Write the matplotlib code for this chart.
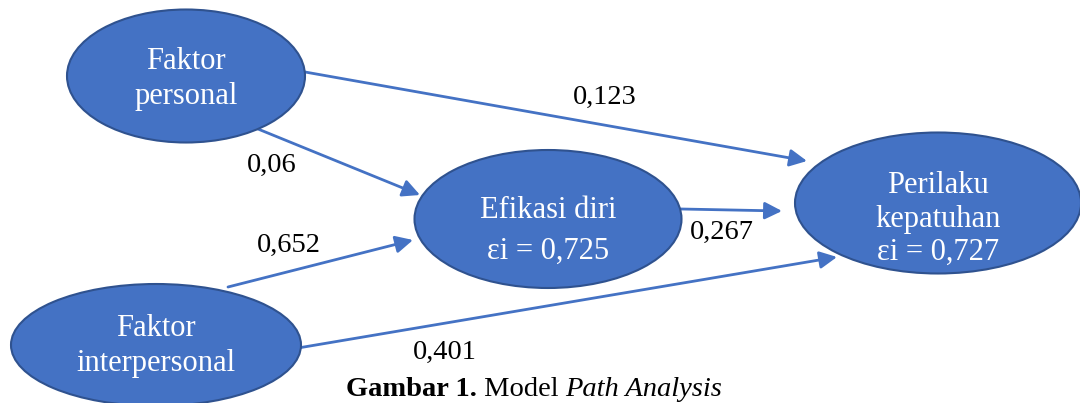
# Path analysis diagram

import matplotlib.pyplot as plt
from matplotlib.patches import Ellipse

plt.rcParams['font.family'] = ['Liberation Serif', 'DejaVu Serif']

# Nodes: label text and layout (centre x, centre y, width, height) in pixels
node_names = ['fp', 'fi', 'ef', 'pk']
node_labels = ['Faktor\npersonal', 'Faktor\ninterpersonal',
               'Efikasi diri\n\u03b5i = 0,725', 'Perilaku\nkepatuhan\n\u03b5i = 0,727']
node_boxes = [(186, 76, 238, 133), (156, 345, 290, 122),
              (548, 219, 267, 138), (938, 203, 286, 141)]
# text centre y and line spacing inside each node
text_y = [79, 346, 231, 219]
text_spacing = [1.27, 1.27, 1.5, 1.2]

# Path coefficients
edge_from = ['fp', 'fp', 'fi', 'ef', 'fi']
edge_to = ['pk', 'ef', 'ef', 'pk', 'pk']
coefs = ['0,123', '0,06', '0,652', '0,267', '0,401']

# arrow start / tip and label position for each edge
edge_start = [(305, 72), (258, 129), (228, 287), (681, 209), (298, 348)]
edge_tip = [(807, 161), (420, 195), (413, 240), (782, 211), (837, 257)]
label_pos = [(605, 97), (272, 165), (289, 245), (722, 232), (445, 352)]

fill = '#4472C4'
edge = '#2F528F'

fig = plt.figure(figsize=(10.8, 4.03), dpi=100)
ax = fig.add_axes([0, 0, 1, 1])
ax.set_xlim(0, 1080)
ax.set_ylim(403, 0)
ax.axis('off')

for (x, y, w, h), lab, ty, sp in zip(node_boxes, node_labels, text_y, text_spacing):
    ax.add_patch(Ellipse((x, y), w, h, facecolor=fill, edgecolor=edge, lw=1.5, zorder=2))
    ax.text(x, ty, lab, color='white', fontsize=22, ha='center', va='center',
            linespacing=sp, zorder=3)

for s, t, c, lp in zip(edge_start, edge_tip, coefs, label_pos):
    ax.annotate('', xy=t, xytext=s,
                arrowprops=dict(arrowstyle='-|>', color=fill, lw=2,
                                mutation_scale=26, shrinkA=0, shrinkB=0),
                zorder=1)
    ax.text(lp[0], lp[1], c, fontsize=20.5, ha='center', va='center')

# caption with mixed styles
t1 = ax.text(346, 389, 'Gambar 1.', fontsize=20.5, fontweight='bold', ha='left', va='center')
t2 = ax.annotate(' Model ', xy=(1, 0), xycoords=t1, fontsize=20.5, ha='left', va='bottom')
ax.annotate('Path Analysis', xy=(1, 0), xycoords=t2, fontsize=20.5, style='italic',
            ha='left', va='bottom')

fig.savefig('out.png', dpi=100)
